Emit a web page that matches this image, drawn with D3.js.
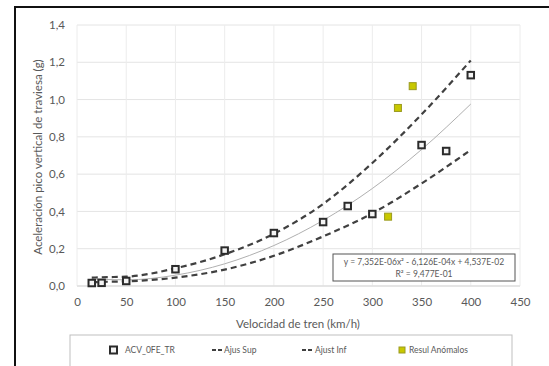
<!DOCTYPE html>
<html><head><meta charset="utf-8">
<script src="https://cdn.jsdelivr.net/npm/d3@7"></script>
<style>
body{margin:0;background:#fff;}
svg{display:block;font-family:Lato,"Open Sans",sans-serif;}
</style></head>
<body><svg id="c" width="549" height="366"></svg>
<script>
// ---- data ----
const speeds = [15,25,50,100,150,200,250,275,300,350,375,400];
const acv    = [0.016,0.017,0.027,0.090,0.190,0.284,0.343,0.429,0.386,0.756,0.724,1.131];
const anomX  = [316,326,341];
const anomY  = [0.372,0.955,1.072];
const bandX  = [15,25,50,100,150,200,250,300,350,400];
const ajusSup= [0.045,0.047,0.050,0.095,0.170,0.280,0.440,0.660,0.920,1.210];
const ajusInf= [0.020,0.022,0.025,0.045,0.088,0.162,0.266,0.390,0.550,0.730];
const trendX = [15,50,100,150,200,250,300,350,400];
const trendY = [0.038,0.033,0.058,0.119,0.217,0.352,0.523,0.732,0.976];
const xTicks = [0,50,100,150,200,250,300,350,400,450];
const yTicks = [0,0.2,0.4,0.6,0.8,1.0,1.2,1.4];
const eqLines = ["y = 7,352E-06x\u00b2 - 6,126E-04x + 4,537E-02","R\u00b2 = 9,477E-01"];
const legendItems = ["ACV_0FE_TR","Ajus Sup","Ajust Inf","Resul An\u00f3malos"];

const svg = d3.select("#c");
const x = d3.scaleLinear().domain([0,450]).range([77,520]);
const y = d3.scaleLinear().domain([0,1.4]).range([286,25]);
const fmt = d => d3.format(".1f")(d).replace(".",",");

// outer frame
svg.append("path").attr("d","M15,366 L15,7 L549,7").attr("fill","none").attr("stroke","#111").attr("stroke-width",2);

// grid
const g = svg.append("g");
g.selectAll(".hg").data(yTicks).join("line")
  .attr("x1",x(0)).attr("x2",x(450)).attr("y1",d=>y(d)).attr("y2",d=>y(d))
  .attr("stroke","#e4e4e4").attr("stroke-width",1);
g.selectAll(".vg").data(xTicks).join("line")
  .attr("y1",y(0)).attr("y2",y(1.4)).attr("x1",d=>x(d)).attr("x2",d=>x(d))
  .attr("stroke","#ececec").attr("stroke-width",1);

// axes (labels only)
const xa = svg.append("g").attr("transform",`translate(0,${y(0)})`)
  .call(d3.axisBottom(x).tickValues(xTicks).tickSize(0).tickPadding(12).tickFormat(d3.format("d")));
const ya = svg.append("g").attr("transform",`translate(${x(0)},0)`)
  .call(d3.axisLeft(y).tickValues(yTicks).tickSize(0).tickPadding(12).tickFormat(fmt));
[xa,ya].forEach(a=>{a.select(".domain").remove();
  a.selectAll("text").attr("fill","#595959").attr("font-size",11.5).attr("font-family","Lato,sans-serif");});
svg.append("line").attr("x1",x(0)).attr("x2",x(450)).attr("y1",y(0)).attr("y2",y(0)).attr("stroke","#d9d9d9");

// titles
svg.append("text").attr("x",298).attr("y",328).attr("text-anchor","middle")
  .attr("fill","#595959").attr("font-size",11.5).text("Velocidad de tren (km/h)");
svg.append("text").attr("transform","translate(42,157) rotate(-90)").attr("text-anchor","middle")
  .attr("fill","#595959").attr("font-size",11.5).text("Aceleraci\u00f3n pico vertical de traviesa (g)");

// trend line
const line = d3.line().x(d=>x(d[0])).y(d=>y(d[1])).curve(d3.curveMonotoneX);
svg.append("path").datum(trendX.map((v,i)=>[v,trendY[i]])).attr("d",line)
  .attr("fill","none").attr("stroke","#b0b0b0").attr("stroke-width",1);

// dashed bounds
[ajusSup,ajusInf].forEach(arr=>{
  svg.append("path").datum(bandX.map((v,i)=>[v,arr[i]])).attr("d",line)
    .attr("fill","none").attr("stroke","#404040").attr("stroke-width",2.2).attr("stroke-dasharray","6,4");
});

// data squares
const s = 6.5;
svg.selectAll(".pt").data(speeds.map((v,i)=>[v,acv[i]])).join("rect")
  .attr("x",d=>x(d[0])-s/2).attr("y",d=>y(d[1])-s/2).attr("width",s).attr("height",s)
  .attr("fill","#f4f4f4").attr("stroke","#2b2b2b").attr("stroke-width",2);
const sa = 7;
svg.selectAll(".an").data(anomX.map((v,i)=>[v,anomY[i]])).join("rect")
  .attr("x",d=>x(d[0])-sa/2).attr("y",d=>y(d[1])-sa/2).attr("width",sa).attr("height",sa)
  .attr("fill","#c8c800").attr("stroke","#9a9a20").attr("stroke-width",1);

// equation box
svg.append("rect").attr("x",333).attr("y",254).attr("width",182).attr("height",27)
  .attr("fill","#fff").attr("stroke","#555").attr("stroke-width",1);
svg.selectAll(".eq").data(eqLines).join("text")
  .attr("x",424).attr("y",(d,i)=>265+i*11.5).attr("text-anchor","middle")
  .attr("fill","#595959").attr("font-size",8.5).text(d=>d);

// legend
svg.append("rect").attr("x",70).attr("y",335).attr("width",442).attr("height",40)
  .attr("fill","#fff").attr("stroke","#bfbfbf").attr("stroke-width",1);
const ly = 350;
const lg = svg.append("g");
lg.append("rect").attr("x",110).attr("y",ly-3.5).attr("width",7).attr("height",7)
  .attr("fill","#f4f4f4").attr("stroke","#2b2b2b").attr("stroke-width",2);
lg.append("line").attr("x1",212).attr("x2",222).attr("y1",ly).attr("y2",ly)
  .attr("stroke","#404040").attr("stroke-width",2.2).attr("stroke-dasharray","4,2");
lg.append("line").attr("x1",302).attr("x2",313).attr("y1",ly).attr("y2",ly)
  .attr("stroke","#404040").attr("stroke-width",2.2).attr("stroke-dasharray","4,2");
lg.append("rect").attr("x",399).attr("y",ly-3).attr("width",6).attr("height",6)
  .attr("fill","#c8c800").attr("stroke","#9a9a20").attr("stroke-width",1);
const lx = [125,224,315,409];
lg.selectAll("text").data(legendItems).join("text")
  .attr("x",(d,i)=>lx[i]).attr("y",ly+3).attr("fill","#595959").attr("font-size",8.5).text(d=>d);
</script></body></html>
